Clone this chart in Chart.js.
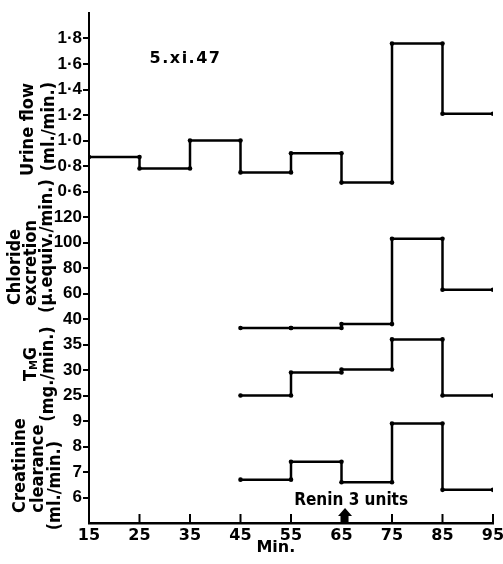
<!DOCTYPE html>
<html>
<head>
<meta charset="utf-8">
<script src="https://cdn.jsdelivr.net/npm/chart.js@4.4.0/dist/chart.umd.min.js"></script>
<style>
  html, body { margin: 0; padding: 0; background: #fff; }
  #wrap { width: 503px; height: 564px; }
</style>
</head>
<body>
<div id="wrap"><canvas id="chart"></canvas></div>
<script>
// collection periods, min.
const periods = [15, 25, 35, 45, 55, 65, 75, 85, 95];
const urineFlow = [0.87, 0.78, 1.0, 0.75, 0.90, 0.67, 1.76, 1.21];

// chemistry only from 45 min. onwards
const chemPeriods = [45, 55, 65, 75, 85, 95];
const chlorideExcretion = [33, 33, 36, 103, 63];
const tmg = [25, 29.5, 30.1, 36, 25];
const creatinineClearance = [6.7, 7.4, 6.6, 8.9, 6.3];

const urineTicks = [0.6, 0.8, 1.0, 1.2, 1.4, 1.6, 1.8];
const chlorideTicks = [40, 60, 80, 100, 120];
const tmgTicks = [25, 30, 35];
const creatinineTicks = [6, 7, 8, 9];
const xTicks = periods;

const reninAt = 65.7;
const expDate = '5.xi.47';

// each period is a flat step with a dot at both ends
function steps(times, values) {
  const pts = [];
  values.forEach((v, i) => {
    pts.push({x: times[i], y: v});
    pts.push({x: times[i + 1], y: v});
  });
  return pts;
}

const BLACK = '#000';
const arial = "'Liberation Sans', Arial, sans-serif";
const cond = "'DejaVu Sans Condensed', 'DejaVu Sans', sans-serif";
const wide = "'DejaVu Sans', sans-serif";

function panelAxis(min, max, ticks, stackWeight, weight, fmt) {
  return {
    type: 'linear', position: 'left', stack: 'panels', stackWeight, weight,
    min, max,
    afterBuildTicks: s => { s.ticks = ticks.map(v => ({value: v})); },
    afterFit: s => { s.width = 89; },
    grid: {drawOnChartArea: false, drawTicks: true, tickLength: 6, color: BLACK, lineWidth: 2},
    border: {display: true, color: BLACK, width: 2},
    ticks: {color: BLACK, padding: 1, autoSkip: false, font: {family: arial, size: 17, weight: 'bold'}, callback: fmt}
  };
}

function stepLine(data, yAxisID) {
  return {
    data, yAxisID, borderColor: BLACK, borderWidth: 2.5, tension: 0, fill: false,
    pointRadius: 2.3, pointBackgroundColor: BLACK, pointBorderWidth: 0, pointHoverRadius: 2.3
  };
}

// [text, column x, shift from panel centre] for every title line
const yTitles = {
  yUrine: [['Urine flow', 28, 21], ['(ml./min.)', 49, 18]],
  yChloride: [['Chloride', 15, -1], ['excretion', 31, -5], ['(\u03bc.equiv./min.)', 47, -22]],
  yTmg: [[null, 31, -6], ['(mg./min.)', 48, 4]],
  yCreat: [['Creatinine', 20, 0], ['clearance', 38, 3], ['(ml./min.)', 55, 20]]
};

const decor = {
  id: 'decor',
  afterDraw(chart) {
    const {ctx, scales} = chart;
    const xs = scales.x;
    const bottom = chart.chartArea.bottom;
    const titleFont = 'bold 18px ' + cond;
    ctx.save();
    ctx.fillStyle = BLACK;
    ctx.strokeStyle = BLACK;

    // tick marks on the time axis point inwards
    ctx.lineWidth = 2;
    xTicks.slice(1).forEach(v => {
      const px = xs.getPixelForValue(v);
      ctx.beginPath();
      ctx.moveTo(px, bottom);
      ctx.lineTo(px, bottom - 9);
      ctx.stroke();
    });

    // rotated panel titles
    ctx.font = titleFont;
    ctx.textBaseline = 'middle';
    ctx.textAlign = 'center';
    Object.entries(yTitles).forEach(([id, lines]) => {
      const s = scales[id];
      const mid = (s.top + s.bottom) / 2;
      lines.forEach(([text, col, shift]) => {
        ctx.save();
        ctx.translate(s.left + col, mid + shift);
        ctx.rotate(-Math.PI / 2);
        if (text) {
          ctx.fillText(text, 0, 0);
        } else {
          // T with subscript M, then G
          const small = 'bold 11px ' + cond;
          ctx.font = titleFont; const wT = ctx.measureText('T').width, wG = ctx.measureText('G').width;
          ctx.font = small; const wM = ctx.measureText('M').width;
          let x0 = -(wT + wM + wG) / 2;
          ctx.textAlign = 'left';
          ctx.font = titleFont; ctx.fillText('T', x0, 0); x0 += wT;
          ctx.font = small; ctx.fillText('M', x0, 3); x0 += wM;
          ctx.font = titleFont; ctx.fillText('G', x0, 0);
          ctx.textAlign = 'center';
        }
        ctx.restore();
      });
    });

    // axis title
    ctx.font = 'bold 16px ' + wide;
    ctx.fillText('Min.', xs.getPixelForValue(52), bottom + 25);

    // experiment date
    const yu = scales.yUrine;
    ctx.textAlign = 'left';
    ctx.letterSpacing = '1.5px';
    ctx.fillText(expDate, xs.getPixelForValue(27), yu.getPixelForValue(1.64));
    ctx.letterSpacing = '0px';

    // renin injection arrow
    const ax = xs.getPixelForValue(reninAt);
    ctx.beginPath();
    ctx.moveTo(ax, bottom - 15);
    ctx.lineTo(ax + 7, bottom - 7);
    ctx.lineTo(ax + 3.5, bottom - 7);
    ctx.lineTo(ax + 3.5, bottom);
    ctx.lineTo(ax - 3.5, bottom);
    ctx.lineTo(ax - 3.5, bottom - 7);
    ctx.lineTo(ax - 7, bottom - 7);
    ctx.closePath();
    ctx.fill();
    ctx.font = 'bold 17px ' + cond;
    ctx.textAlign = 'center';
    ctx.fillText('Renin 3 units', xs.getPixelForValue(66.9), bottom - 22);
    ctx.restore();
  }
};

new Chart(document.getElementById('chart'), {
  type: 'line',
  data: {
    datasets: [
      stepLine(steps(periods, urineFlow), 'yUrine'),
      stepLine(steps(chemPeriods, chlorideExcretion), 'yChloride'),
      stepLine(steps(chemPeriods, tmg), 'yTmg'),
      stepLine(steps(chemPeriods, creatinineClearance), 'yCreat')
    ]
  },
  options: {
    responsive: true,
    maintainAspectRatio: false,
    animation: false,
    layout: {padding: {top: 13, left: 0, right: 0, bottom: 0}},
    plugins: {legend: {display: false}, tooltip: {enabled: false}},
    scales: {
      x: {
        type: 'linear', min: 15, max: 95,
        afterBuildTicks: s => { s.ticks = xTicks.map(v => ({value: v})); },
        afterFit: s => { s.height = 41; s.paddingLeft = 0; s.paddingRight = 10; },
        grid: {display: false, drawTicks: false},
        border: {display: true, color: BLACK, width: 2.5},
        ticks: {color: BLACK, padding: 3, maxRotation: 0, autoSkip: false,
                font: {family: wide, size: 16, weight: 'bold'}}
      },
      yUrine: panelAxis(0.5, 2.0, urineTicks, 7.5, 4, v => v.toFixed(1).replace('.', '\u00b7')),
      yChloride: panelAxis(30, 130, chlorideTicks, 5, 3),
      yTmg: panelAxis(22.5, 37.5, tmgTicks, 3, 2),
      yCreat: panelAxis(5, 9.5, creatinineTicks, 4.5, 1)
    }
  },
  plugins: [decor]
});
</script>
</body>
</html>
